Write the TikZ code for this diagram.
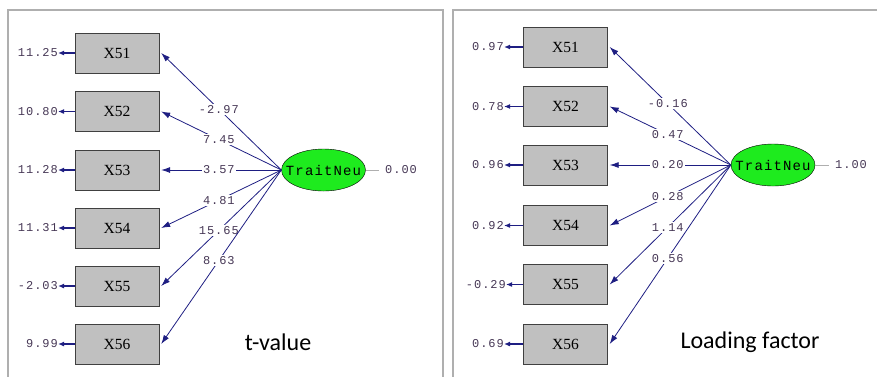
\documentclass[tikz,border=0pt]{standalone}
\usepackage{fontspec}
\usepackage{tikz}
\usetikzlibrary{shapes.geometric,arrows.meta}
\newfontfamily\lisfont{Liberation Mono}[LetterSpace=8]
\newfontfamily\boxfont{Liberation Serif}
\newfontfamily\capfont{Carlito}
\definecolor{lisnavy}{RGB}{30,30,130}
\definecolor{lisnum}{RGB}{70,55,85}
\definecolor{lisgray}{RGB}{192,192,192}
\definecolor{lisgreen}{RGB}{30,235,30}
\definecolor{panelgray}{RGB}{175,175,175}

\begin{document}
\begin{tikzpicture}[x=1pt,y=-1pt,
	every node/.style={inner sep=0pt},
	obsbox/.style={rectangle,draw=black!75,fill=lisgray,minimum width=84,minimum height=40,font=\boxfont\fontsize{15.5}{15.5}\selectfont},
	latent/.style={ellipse,draw=black,fill=lisgreen,minimum width=84,minimum height=42,font=\lisfont\fontsize{14}{14}\selectfont},
	errlabel/.style={anchor=east,text=lisnum,font=\lisfont\fontsize{12}{12}\selectfont},
	varlabel/.style={anchor=west,text=lisnum,font=\lisfont\fontsize{12}{12}\selectfont},
	plabel/.style={pos=0.52,fill=white,inner sep=1.5pt,text=lisnum,font=\lisfont\fontsize{12}{12}\selectfont},
	load/.style={draw=lisnavy,line width=0.8pt,-{Latex[length=9pt,width=6pt]}},
	errline/.style={draw=lisnavy,line width=1.3pt,-{Latex[length=6pt,width=5pt]}},
	varline/.style={draw=panelgray,line width=0.8pt},
	panel/.style={draw=panelgray,line width=1.5pt}]
	\useasboundingbox (0,0) rectangle (877,376);
	% panels
	\draw[panel] (8,400) -- (8,10) -- (443,10) -- (443,400);
	\draw[panel] (453,400) -- (453,10) -- (900,10);
	% t-values
	\node[obsbox] (tx51) at (117,53) {X51};
	\node[obsbox] (tx52) at (117,111.5) {X52};
	\node[obsbox] (tx53) at (117,170) {X53};
	\node[obsbox] (tx54) at (117,228) {X54};
	\node[obsbox] (tx55) at (117,286) {X55};
	\node[obsbox] (tx56) at (117,344) {X56};
	\node[latent] (tneu) at (323.5,170) {\makebox[0pt]{TraitNeu}};
	\node[errlabel] (te51) at (58,53) {11.25};
	\node[errlabel] (te52) at (58,111.5) {10.80};
	\node[errlabel] (te53) at (58,170) {11.28};
	\node[errlabel] (te54) at (58,228) {11.31};
	\node[errlabel] (te55) at (58,286) {-2.03};
	\node[errlabel] (te56) at (58,344) {9.99};
	\node[varlabel] (tvar) at (385,170) {0.00};
	\draw[errline] (tx51.west) -- (te51.east);
	\draw[errline] (tx52.west) -- (te52.east);
	\draw[errline] (tx53.west) -- (te53.east);
	\draw[errline] (tx54.west) -- (te54.east);
	\draw[errline] (tx55.west) -- (te55.east);
	\draw[errline] (tx56.west) -- (te56.east);
	\draw[varline] (tneu.east) -- ([xshift=-6pt]tvar.west);
	\draw[load] (tneu.west) -- node[plabel] {-2.97} ([xshift=2pt]tx51.east);
	\draw[load] (tneu.west) -- node[plabel] {7.45} ([xshift=2pt]tx52.east);
	\draw[load] (tneu.west) -- node[plabel] {3.57} ([xshift=2pt]tx53.east);
	\draw[load] (tneu.west) -- node[plabel] {4.81} ([xshift=2pt]tx54.east);
	\draw[load] (tneu.west) -- node[plabel] {15.65} ([xshift=2pt]tx55.east);
	\draw[load] (tneu.west) -- node[plabel] {8.63} ([xshift=2pt]tx56.east);
	\node[font=\capfont\fontsize{24}{24}\selectfont] (tcap) at (278,342) {t-value};
	% loading factors
	\node[obsbox] (lx51) at (565.5,47) {X51};
	\node[obsbox] (lx52) at (565.5,106.5) {X52};
	\node[obsbox] (lx53) at (565.5,165) {X53};
	\node[obsbox] (lx54) at (565.5,225.5) {X54};
	\node[obsbox] (lx55) at (565.5,284.5) {X55};
	\node[obsbox] (lx56) at (565.5,344) {X56};
	\node[latent] (lneu) at (773,165) {\makebox[0pt]{TraitNeu}};
	\node[errlabel] (le51) at (504,47) {0.97};
	\node[errlabel] (le52) at (504,106.5) {0.78};
	\node[errlabel] (le53) at (504,165) {0.96};
	\node[errlabel] (le54) at (504,225.5) {0.92};
	\node[errlabel] (le55) at (506,284.5) {-0.29};
	\node[errlabel] (le56) at (504,344) {0.69};
	\node[varlabel] (lvar) at (835,165) {1.00};
	\draw[errline] (lx51.west) -- (le51.east);
	\draw[errline] (lx52.west) -- (le52.east);
	\draw[errline] (lx53.west) -- (le53.east);
	\draw[errline] (lx54.west) -- (le54.east);
	\draw[errline] (lx55.west) -- (le55.east);
	\draw[errline] (lx56.west) -- (le56.east);
	\draw[varline] (lneu.east) -- ([xshift=-6pt]lvar.west);
	\draw[load] (lneu.west) -- node[plabel] {-0.16} ([xshift=2pt]lx51.east);
	\draw[load] (lneu.west) -- node[plabel] {0.47} ([xshift=2pt]lx52.east);
	\draw[load] (lneu.west) -- node[plabel] {0.20} ([xshift=2pt]lx53.east);
	\draw[load] (lneu.west) -- node[plabel] {0.28} ([xshift=2pt]lx54.east);
	\draw[load] (lneu.west) -- node[plabel] {1.14} ([xshift=2pt]lx55.east);
	\draw[load] (lneu.west) -- node[plabel] {0.56} ([xshift=2pt]lx56.east);
	\node[font=\capfont\fontsize{24}{24}\selectfont] (lcap) at (750,342) {Loading factor};
\end{tikzpicture}
\end{document}
